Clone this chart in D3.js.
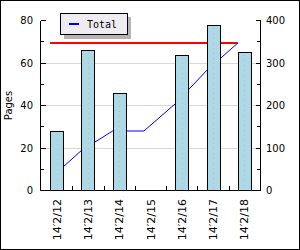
<!DOCTYPE html>
<html><head><meta charset="utf-8">
<script src="https://cdn.jsdelivr.net/npm/d3@7"></script>
<style>body{margin:0;background:#fff}svg{display:block}</style>
</head><body>
<script>
const categories = ["14\u20322/12","14\u20322/13","14\u20322/14","14\u20322/15","14\u20322/16","14\u20322/17","14\u20322/18"];
const pages = [28, 66, 46, 0, 64, 78, 65];
const cumulative = [28, 94, 140, 140, 204, 282, 347];
const totalValue = 347;
const leftTicks = [0, 20, 40, 60, 80];
const rightTicks = [0, 100, 200, 300, 400];
const legendLabel = "Total";

const W = 300, H = 250;
const svg = d3.select("body").append("svg").attr("width", W).attr("height", H);
svg.append("rect").attr("x",0.5).attr("y",0.5).attr("width",W-1).attr("height",H-1)
  .attr("fill","#fff").attr("stroke","#000");

const L = 41, R = 260, T = 20.5, B = 190.5;
const x = d3.scaleBand().domain(categories).range([L, R]).padding(0);
const step = x.step();
const bw = step * 0.42, boff = (step - bw) / 2;
const yL = d3.scaleLinear().domain([0, 80]).range([B, T]);
const yR = d3.scaleLinear().domain([0, 400]).range([B, T]);

// gridlines
svg.append("g").selectAll("line").data(leftTicks.filter(d => d > 0 && d < 80)).join("line")
  .attr("x1", L).attr("x2", R).attr("y1", d => yL(d)).attr("y2", d => yL(d))
  .attr("stroke", "#d8d8d8").attr("stroke-width", 1).attr("shape-rendering","crispEdges");

// total line (red)
const px = d => x(d) + boff;
svg.append("line")
  .attr("x1", px(categories[0])).attr("x2", px(categories[categories.length-1]))
  .attr("y1", yR(totalValue)).attr("y2", yR(totalValue))
  .attr("stroke", "#ff0000").attr("stroke-width", 2);

// cumulative line (blue)
svg.append("path").datum(cumulative.map((v,i)=>[categories[i], v]))
  .attr("fill","none").attr("stroke","#0000ff").attr("stroke-width",1)
  .attr("d", d3.line().x(d => px(d[0])).y(d => yR(d[1])));

// bars
const bars = svg.append("g");
bars.selectAll("rect").data(pages.map((v,i)=>[categories[i], v]).filter(d => d[1] > 0)).join("rect")
  .attr("x", d => Math.round(x(d[0]) + boff) + 0.5)
  .attr("y", d => Math.round(yL(d[1])) + 0.5)
  .attr("width", Math.round(bw))
  .attr("height", d => B - 0.5 - Math.round(yL(d[1])))
  .attr("fill", "#add8e6").attr("stroke", "#000").attr("stroke-width", 1);
bars.selectAll("line").data(pages.map((v,i)=>[categories[i], v]).filter(d => d[1] > 0)).join("line")
  .attr("x1", d => Math.round(x(d[0]) + step/2) + 0.5)
  .attr("x2", d => Math.round(x(d[0]) + step/2) + 0.5)
  .attr("y1", d => Math.round(yL(d[1])) + 3).attr("y2", B - 1)
  .attr("stroke", "#e0a8b8").attr("stroke-width", 1).attr("stroke-dasharray", "1,4");

// axes
const axisColor = "#000";
const g = svg.append("g").attr("shape-rendering","crispEdges");
// left axis line
g.append("line").attr("x1",L-0.5).attr("x2",L-0.5).attr("y1",T).attr("y2",B+0.5).attr("stroke",axisColor);
g.append("line").attr("x1",R+0.5).attr("x2",R+0.5).attr("y1",T).attr("y2",B+0.5).attr("stroke",axisColor);
g.append("line").attr("x1",L-0.5).attr("x2",R+0.5).attr("y1",B).attr("y2",B).attr("stroke",axisColor);

const leftAll = d3.range(0, 81, 10);
g.selectAll(".lt").data(leftAll).join("line")
  .attr("x1", L-0.5).attr("x2", d => L + (d % 20 === 0 ? 4.5 : 3))
  .attr("y1", d => yL(d)).attr("y2", d => yL(d)).attr("stroke", axisColor);
g.selectAll(".rt").data(d3.range(0, 401, 50)).join("line")
  .attr("x1", R+0.5).attr("x2", d => R - (d % 100 === 0 ? 4 : 3))
  .attr("y1", d => yR(d)).attr("y2", d => yR(d)).attr("stroke", axisColor);
g.selectAll(".bt").data(categories.slice(1)).join("line")
  .attr("x1", d => Math.round(x(d)) + 0.5).attr("x2", d => Math.round(x(d)) + 0.5)
  .attr("y1", B).attr("y2", B - 5).attr("stroke", axisColor);

const font = "DejaVu Sans, sans-serif";
svg.selectAll(".ll").data(leftTicks).join("text")
  .attr("x", 33).attr("y", d => yL(d)).attr("dy", "0.35em")
  .attr("text-anchor", "end").attr("font-family", font).attr("font-size", 10)
  .text(d => d);
svg.selectAll(".rl").data(rightTicks).join("text")
  .attr("x", 266).attr("y", d => yR(d)).attr("dy", "0.35em")
  .attr("text-anchor", "start").attr("font-family", font).attr("font-size", 10)
  .text(d => d);
svg.selectAll(".xl").data(categories).join("text")
  .attr("transform", d => `translate(${x(d) + step/2 + 4},199) rotate(-90)`)
  .attr("text-anchor", "end").attr("font-family", font).attr("font-size", 11)
  .text(d => d);
svg.append("text").attr("transform", `translate(12,${(T+B)/2}) rotate(-90)`)
  .attr("text-anchor","middle").attr("font-family", font).attr("font-size", 10)
  .text("Pages");

// legend
const lg = svg.append("g").attr("shape-rendering","crispEdges");
lg.append("rect").attr("x",64).attr("y",17).attr("width",67).attr("height",22).attr("fill","#b4b4b4");
lg.append("rect").attr("x",60.5).attr("y",13.5).attr("width",67).attr("height",21)
  .attr("fill","#eeecf2").attr("stroke","#000");
lg.append("line").attr("x1",69).attr("x2",79).attr("y1",24).attr("y2",24)
  .attr("stroke","#0000ff").attr("stroke-width",2);
svg.append("text").attr("x",87).attr("y",24).attr("dy","0.35em")
  .attr("font-family","DejaVu Sans Mono, monospace").attr("font-size",10).text(legendLabel);
</script>
</body></html>
